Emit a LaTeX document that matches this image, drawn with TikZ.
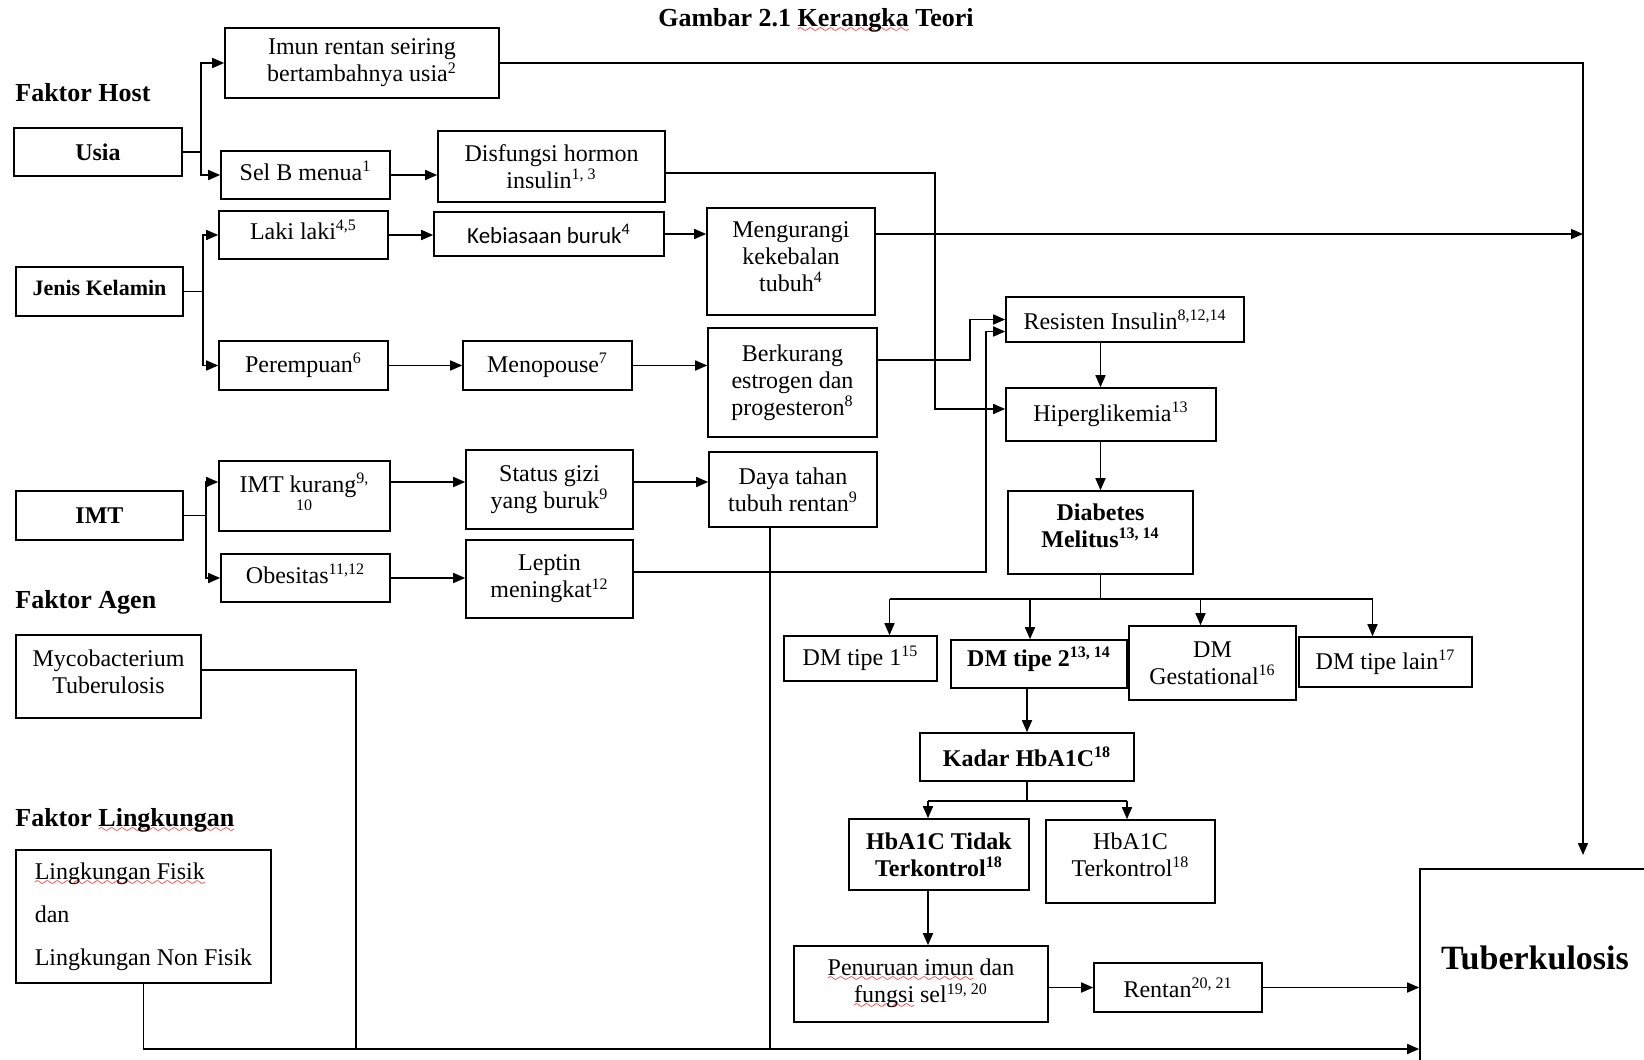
\documentclass[tikz,border=0pt]{standalone}
\usepackage{fontspec}
\setmainfont{Liberation Serif}
\newfontfamily\calfont{Carlito}
\usetikzlibrary{arrows.meta}
\newcommand\rf[1]{\textsuperscript{#1}}
\font\wavefont=lasy6
\newcommand\spell[1]{\leavevmode\setbox0\hbox{#1}\rlap{\textcolor{red}{\lower3pt\hbox to\wd0{\xleaders\hbox{\wavefont\char58}\hfill}}}\box0\relax}

\tikzset{
  box/.style={draw, line width=0.8pt, align=center, inner sep=2pt, font=\fontsize{12}{13.6}\selectfont},
  bbox/.style={box, font=\fontsize{12}{13.6}\selectfont\bfseries},
  wh/.style 2 args={minimum width=#1*0.5pt, minimum height=#2*0.5pt},
  head/.style={anchor=west, inner sep=0pt, font=\fontsize{13}{15}\selectfont\bfseries},
  link/.style={line width=0.8pt},
  arr/.style={link, -{Triangle[length=6pt,width=5pt]}},
}

\begin{document}
\begin{tikzpicture}[x=0.5pt, y=-0.5pt]
	\useasboundingbox (0,0) rectangle (1644,1060);
	\coordinate (tbin) at (1583,855);
	\coordinate (base) at (0,1049);
	
	\node[font=\fontsize{13}{15}\selectfont\bfseries] (title) at (816,20) {Gambar 2.1 \spell{Kerangka} Teori};
	\node[head] (host) at (15,93) {Faktor Host};
	\node[head] (agen) at (15,602) {Faktor Agen};
	\node[head] (lingk) at (15,820) {Faktor \spell{Lingkungan}};
	
	% faktor host
	\node[bbox, wh={168}{48}] (usia) at (98,152) {Usia};
	\node[box, wh={274}{70}] (imun) at (362,63) {Imun rentan seiring\\bertambahnya usia\rf{2}};
	\node[box, wh={169}{48}, text depth=4pt] (selb) at (305.5,175) {Sel B menua\rf{1}};
	\node[box, wh={227}{71}] (disf) at (551.5,166.5) {Disfungsi hormon\\insulin\rf{1, 3}};
	
	\node[bbox, wh={167}{49}, font=\fontsize{11}{13}\selectfont\bfseries, text depth=4pt] (jk) at (99.5,291.5) {Jenis Kelamin};
	\node[box, wh={169}{48}, text depth=5pt] (laki) at (303.5,235) {Laki laki\rf{4,5}};
	\node[box, wh={230}{44}, font=\calfont\fontsize{11.5}{13}\selectfont] (kebi) at (549,234) {Kebiasaan buruk\rf{4}};
	\node[box, wh={168}{107}, text depth=5pt] (meng) at (791,261.5) {Mengurangi\\kekebalan\\tubuh\rf{4}};
	\node[box, wh={169}{49}] (perem) at (303.5,365.5) {Perempuan\rf{6}};
	\node[box, wh={169}{49}] (meno) at (547.5,365.5) {Menopouse\rf{7}};
	\node[box, wh={169}{109}] (berk) at (792.5,382.5) {Berkurang\\estrogen dan\\progesteron\rf{8}};
	
	\node[bbox, wh={167}{49}] (imt) at (99.5,515.5) {IMT};
	\node[box, wh={171}{70}] (imtk) at (304.5,496) {IMT kurang\rf{9,}\\\rf{10}};
	\node[box, wh={167}{79}] (stat) at (549.5,489.5) {Status gizi\\yang buruk\rf{9}};
	\node[box, wh={168}{75}] (daya) at (793,489.5) {Daya tahan\\tubuh rentan\rf{9}};
	\node[box, wh={169}{48}, text depth=4pt] (obes) at (305.5,578) {Obesitas\rf{11,12}};
	\node[box, wh={167}{78}] (lept) at (549.5,579) {Leptin\\meningkat\rf{12}};
	
	% agen, lingkungan
	\node[box, wh={185}{83}, text depth=5pt] (myco) at (108.5,676.5) {Mycobacterium\\Tuberulosis};
	\node[box, wh={255}{133}, align=left] (ling) at (143.5,916.5) {\spell{Lingkungan Fisik}\\[8pt]dan\\[8pt]Lingkungan Non Fisik};
	
	% diabetes
	\node[box, wh={238}{45}] (resi) at (1125,319.5) {Resisten Insulin\rf{8,12,14}};
	\node[box, wh={210}{53}] (hipe) at (1111,414.5) {Hiperglikemia\rf{13}};
	\node[bbox, wh={185}{83}, text depth=7pt] (dm) at (1100.5,532.5) {Diabetes\\Melitus\rf{13, 14}};
	\node[box, wh={153}{45}] (dm1) at (860.5,658.5) {DM tipe 1\rf{15}};
	\node[bbox, wh={176}{48}, text depth=7.5pt] (dm2) at (1039,664) {DM tipe 2\rf{13, 14}};
	\node[box, wh={167}{74}] (gest) at (1212.5,663) {DM\\Gestational\rf{16}};
	\node[box, wh={173}{50}] (lain) at (1385.5,662) {DM tipe lain\rf{17}};
	\node[bbox, wh={214}{48}] (kadar) at (1027,757) {Kadar HbA1C\rf{18}};
	\node[bbox, wh={180}{71}] (tidak) at (939,854.5) {HbA1C Tidak\\Terkontrol\rf{18}};
	\node[box, wh={169}{83}, text depth=7pt] (terk) at (1130.5,861.5) {HbA1C\\Terkontrol\rf{18}};
	\node[box, wh={254}{76}] (penu) at (921,984) {\spell{Penuruan imun} dan\\\spell{fungsi} sel\rf{19, 20}};
	\node[box, wh={168}{49}] (rent) at (1178,987.5) {Rentan\rf{20, 21}};
	
	\node[box, wh={300}{240}] (tb) at (1570,989) {};
	\node[font=\fontsize{17}{20}\selectfont\bfseries] (tbtext) at (1535,958) {Tuberkulosis};
	
	% usia
	\draw[arr] (usia.east) -- ++(18,0) |- (imun.west);
	\draw[arr] (usia.east) -- ++(18,0) |- (selb.west);
	\draw[arr] (selb.east) -- (selb.east -| disf.west);
	\draw[arr] (imun.east) -| (tbin);
	\draw[arr] ([yshift=-3.25pt]disf.east) -- ++(269,0) |- ([yshift=2.75pt]hipe.west);
	
	% jenis kelamin
	\draw[arr] (jk.east) -- ++(19,0) |- (laki.west);
	\draw[arr] (jk.east) -- ++(19,0) |- (perem.west);
	\draw[arr] (laki.east) -- (laki.east -| kebi.west);
	\draw[arr] (kebi.east) -- (kebi.east -| meng.west);
	\draw[arr] (meng.east |- kebi.east) -- (kebi.east -| tbin);
	\draw[arr] (perem.east) -- (perem.east -| meno.west);
	\draw[arr] (meno.east) -- (meno.east -| berk.west);
	\draw[arr] ([yshift=11.25pt]berk.east) -- ++(92,0) |- (resi.west);
	
	% imt
	\coordinate (rowimt) at ([yshift=7pt]imtk.west);
	\draw[arr] (imt.east) -- ++(22,0) |- (rowimt);
	\draw[arr] (imt.east) -- ++(22,0) |- (obes.west);
	\draw[arr] (rowimt -| imtk.east) -- (rowimt -| stat.west);
	\draw[arr] (rowimt -| stat.east) -- (rowimt -| daya.west);
	\draw[arr] (obes.east) -- (obes.east -| lept.west);
	\draw[arr] ([yshift=3.5pt]lept.east) -- ++(352,0) |- ([yshift=-6pt]resi.west);
	
	% diabetes melitus
	\draw[arr] (dm.north |- resi.south) -- (dm.north |- hipe.north);
	\draw[arr] (dm.north |- hipe.south) -- (dm.north);
	\coordinate (d1) at ([xshift=14.5pt]dm1.north);
	\coordinate (d2) at ([xshift=-4.5pt]dm2.north);
	\coordinate (d3) at ([xshift=-6pt]gest.north);
	\coordinate (d4) at ([xshift=-6.5pt]lain.north);
	\draw[link] (dm.south) -- ++(0,24) coordinate (dmsplit);
	\draw[link] (d1 |- dmsplit) -- (d4 |- dmsplit);
	\foreach \d in {d1,d2,d3,d4}
		\draw[arr] (\d |- dmsplit) -- (\d);
	\draw[arr] (dm2.south -| kadar.north) -- (kadar.north);
	
	% hba1c
	\coordinate (k1) at ([xshift=-5.5pt]tidak.north);
	\coordinate (k2) at ([xshift=-1.75pt]terk.north);
	\draw[link] (kadar.south) -- ++(0,19) coordinate (ksplit);
	\draw[link] (k1 |- ksplit) -- (k2 |- ksplit);
	\draw[arr] (k1 |- ksplit) -- (k1);
	\draw[arr] (k2 |- ksplit) -- (k2);
	\draw[arr] (k1 |- tidak.south) -- (k1 |- penu.north);
	\draw[arr] (penu.east |- rent.west) -- (rent.west);
	\draw[arr] (rent.east) -- (rent.east -| tb.west);
	
	% bottom line
	\draw[arr] (ling.south) |- (base -| tb.west);
	\draw[link] ([yshift=3.25pt]myco.east) -- ++(154,0) coordinate (mbend) -- (mbend |- base);
	\draw[link] ([xshift=-11.5pt]daya.south) coordinate (dbend) -- (dbend |- base);
\end{tikzpicture}
\end{document}
